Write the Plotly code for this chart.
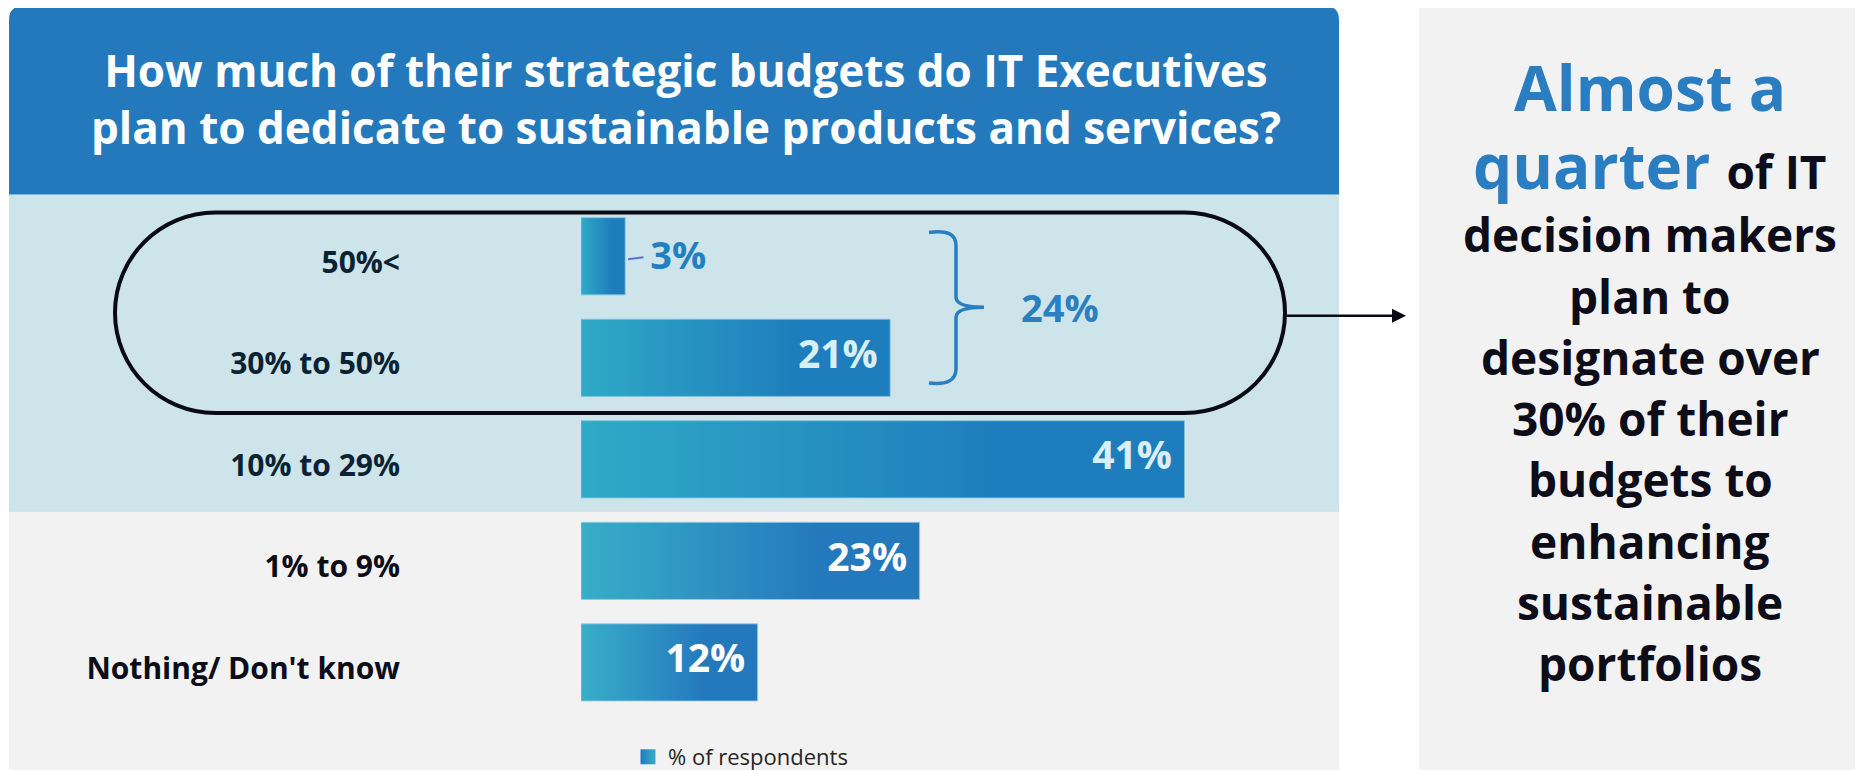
import plotly.graph_objects as go

W, H = 1863, 770

# ---------------- data ----------------
categories = ["50%<", "30% to 50%", "10% to 29%", "1% to 9%", "Nothing/ Don't know"]
values = [3, 21, 41, 23, 12]
series_name = "% of respondents"
highlight_rows = [0, 1]          # rows grouped by the bracket / outline
title_lines = ["How much of their strategic budgets do IT Executives",
               "plan to dedicate to sustainable products and services?"]
callout_head = ["Almost a", "quarter"]
callout_tail = "of IT"
callout_lines = ["decision makers", "plan to", "designate over", "30% of their",
                 "budgets to", "enhancing", "sustainable", "portfolios"]

# ---------------- style ----------------
FONT = "Open Sans"
BLUE = "#2479bd"
TEAL = "#38aec8"
LABEL_BLUE = "#2a7dc1"
INK = "#0d0d1a"
GRAD = [[0, TEAL], [0.7, BLUE], [1, BLUE]]
PX_PER_PCT = 14.72
X0, X1 = 581, 1339
Y_TOP, Y_BOT = 206, 715
BAR_H = 0.38
OFF = 8  # page body margin offset of the plot div


def px(x):
    return (x - OFF) / W


def py(y):
    return 1 - (y - OFF) / H


def pt(x, y):
    return f"{px(x):.5f},{py(y):.5f}"


fig = go.Figure()

# bars (gradient-filled rectangles on the data axes)
for i, v in enumerate(values):
    fig.add_trace(go.Scatter(
        x=[0, v, v, 0, 0],
        y=[i - BAR_H, i - BAR_H, i + BAR_H, i + BAR_H, i - BAR_H],
        mode="lines", line=dict(width=1, color="rgba(150,205,228,0.85)"),
        fill="toself",
        fillgradient=dict(type="horizontal", colorscale=GRAD),
        showlegend=False, hoverinfo="skip"))

# value labels
inside = [(i, v) for i, v in enumerate(values) if v >= 5]
outside = [(i, v) for i, v in enumerate(values) if v < 5]
fig.add_trace(go.Scatter(
    x=[v - 0.85 for i, v in inside], y=[i for i, v in inside],
    text=[f"{v}%" for i, v in inside], mode="text", textposition="middle left",
    textfont=dict(family=FONT, size=39, color="white", weight=700),
    showlegend=False, hoverinfo="skip"))
fig.add_trace(go.Scatter(
    x=[v + 1.7 for i, v in outside], y=[i + 0.03 for i, v in outside],
    text=[f"{v}%" for i, v in outside], mode="text", textposition="middle right",
    textfont=dict(family=FONT, size=38, color=LABEL_BLUE, weight=700),
    showlegend=False, hoverinfo="skip"))

# legend entry
fig.add_trace(go.Scatter(
    x=[None], y=[None], mode="markers", name=series_name,
    marker=dict(symbol="square", size=15, color=BLUE,
                gradient=dict(type="horizontal", color=TEAL))))

shapes = []
# main panel background + right panel
shapes.append(dict(type="rect", xref="paper", yref="paper", layer="below",
                   x0=px(9), x1=px(1339), y0=py(790), y1=py(190),
                   fillcolor="#f2f2f2", line=dict(width=0)))
shapes.append(dict(type="rect", xref="paper", yref="paper", layer="below",
                   x0=px(1419), x1=px(1880), y0=py(790), y1=py(6),
                   fillcolor="#f2f2f2", line=dict(width=0)))
# header with rounded top corners
r = 14
hdr = (f"M{pt(9,195)} L{pt(9,6+r)} Q{pt(9,6)} {pt(9+r,6)} L{pt(1339-r,6)} "
       f"Q{pt(1339,6)} {pt(1339,6+r)} L{pt(1339,195)} Z")
shapes.append(dict(type="path", xref="paper", yref="paper", layer="below",
                   path=hdr, fillcolor=BLUE, line=dict(width=0)))
# translucent band over the top rows
shapes.append(dict(type="rect", xref="paper", yref="paper", layer="above",
                   x0=px(9), x1=px(1339), y0=py(513), y1=py(195),
                   fillcolor="rgba(2,151,190,0.154)", line=dict(width=0)))
# leader line for outside labels
for i, v in outside:
    shapes.append(dict(type="line", xref="x", yref="y", layer="above",
                       x0=v + 0.2, x1=v + 1.25, y0=i + 0.03, y1=i + 0.01,
                       line=dict(color="#5a6fd8", width=2)))
# bracket
br = (f"M{pt(929,233)} Q{pt(956,229)} {pt(956,246)} L{pt(956,298)} "
      f"Q{pt(956,308)} {pt(984,308)} Q{pt(956,308)} {pt(956,318)} "
      f"L{pt(956,370)} Q{pt(956,387)} {pt(929,384)}")
shapes.append(dict(type="path", xref="paper", yref="paper", layer="above",
                   path=br, line=dict(color="#2a7fc0", width=3.5)))
# stadium outline
L, R, T, B = 115, 1285, 213, 414
rad = (B - T) / 2
k = 0.5523 * rad
st = (f"M{pt(L+rad,T)} L{pt(R-rad,T)} "
      f"C{pt(R-rad+k,T)} {pt(R,T+rad-k)} {pt(R,T+rad)} "
      f"C{pt(R,T+rad+k)} {pt(R-rad+k,B)} {pt(R-rad,B)} "
      f"L{pt(L+rad,B)} "
      f"C{pt(L+rad-k,B)} {pt(L,T+rad+k)} {pt(L,T+rad)} "
      f"C{pt(L,T+rad-k)} {pt(L+rad-k,T)} {pt(L+rad,T)} Z")
shapes.append(dict(type="path", xref="paper", yref="paper", layer="above",
                   path=st, line=dict(color="#0a0a14", width=4)))
# arrow
ay = T + rad + 3
shapes.append(dict(type="line", xref="paper", yref="paper", layer="above",
                   x0=px(R), x1=px(1394), y0=py(ay), y1=py(ay),
                   line=dict(color="#0a0a14", width=2.5)))
shapes.append(dict(type="path", xref="paper", yref="paper", layer="above",
                   path=f"M{pt(1392,ay-7)} L{pt(1406,ay)} L{pt(1392,ay+7)} Z",
                   fillcolor="#0a0a14", line=dict(width=0)))

annotations = []
# title (one two-line block)
TF = 44
annotations.append(dict(xref="paper", yref="paper", x=px(686), y=py(99),
                        xanchor="center", yanchor="middle", showarrow=False,
                        text="<br>".join(title_lines),
                        font=dict(family=FONT, size=TF, color="white", weight=700)))
# bracket total
total = sum(values[i] for i in highlight_rows)
annotations.append(dict(xref="paper", yref="paper", x=px(1019), y=py(308),
                        xanchor="left", yanchor="middle", showarrow=False,
                        text=f"{total}%",
                        font=dict(family=FONT, size=38, color="#2a7fc0", weight=700)))
# call-out panel
CX = 1650
HF, BF = 62, 46
annotations.append(dict(xref="paper", yref="paper", x=px(CX), y=py(111 - 0.39 * HF),
                        xanchor="center", yanchor="middle", showarrow=False,
                        text=callout_head[0],
                        font=dict(family=FONT, size=HF, color=LABEL_BLUE, weight=700)))
annotations.append(dict(xref="paper", yref="paper", x=px(CX), y=py(190 - 0.39 * HF),
                        xanchor="center", yanchor="middle", showarrow=False,
                        text=(f"{callout_head[1]} <span style='font-size:{BF}px;color:{INK}'>"
                              f"{callout_tail}</span>"),
                        font=dict(family=FONT, size=HF, color=LABEL_BLUE, weight=700)))
for j, line in enumerate(callout_lines):
    base = 253 + j * 61.4
    annotations.append(dict(xref="paper", yref="paper", x=px(CX), y=py(base - 0.39 * BF),
                            xanchor="center", yanchor="middle", showarrow=False,
                            text=line,
                            font=dict(family=FONT, size=BF, color=INK, weight=700)))

fig.update_layout(
    width=W, height=H, margin=dict(l=0, r=0, t=0, b=0),
    paper_bgcolor="white", plot_bgcolor="rgba(0,0,0,0)",
    shapes=shapes, annotations=annotations,
    showlegend=True,
    legend=dict(x=px(628), y=py(759), xanchor="left", yanchor="middle",
                bgcolor="rgba(0,0,0,0)", orientation="h",
                font=dict(family=FONT, size=22, color="#262626")),
    xaxis=dict(domain=[px(X0), px(X1)], range=[0, (X1 - X0) / PX_PER_PCT],
               visible=False, fixedrange=True),
    yaxis=dict(domain=[py(Y_BOT), py(Y_TOP)], range=[4.5, -0.5],
               tickmode="array", tickvals=list(range(len(categories))),
               ticktext=categories, showgrid=False, zeroline=False,
               showline=False, ticks="", ticklabelstandoff=180,
               ticklabelshift=-6,
               tickfont=dict(family=FONT, size=30, color=INK, weight=700),
               fixedrange=True),
    hovermode=False,
)

fig.write_html("out.html")
